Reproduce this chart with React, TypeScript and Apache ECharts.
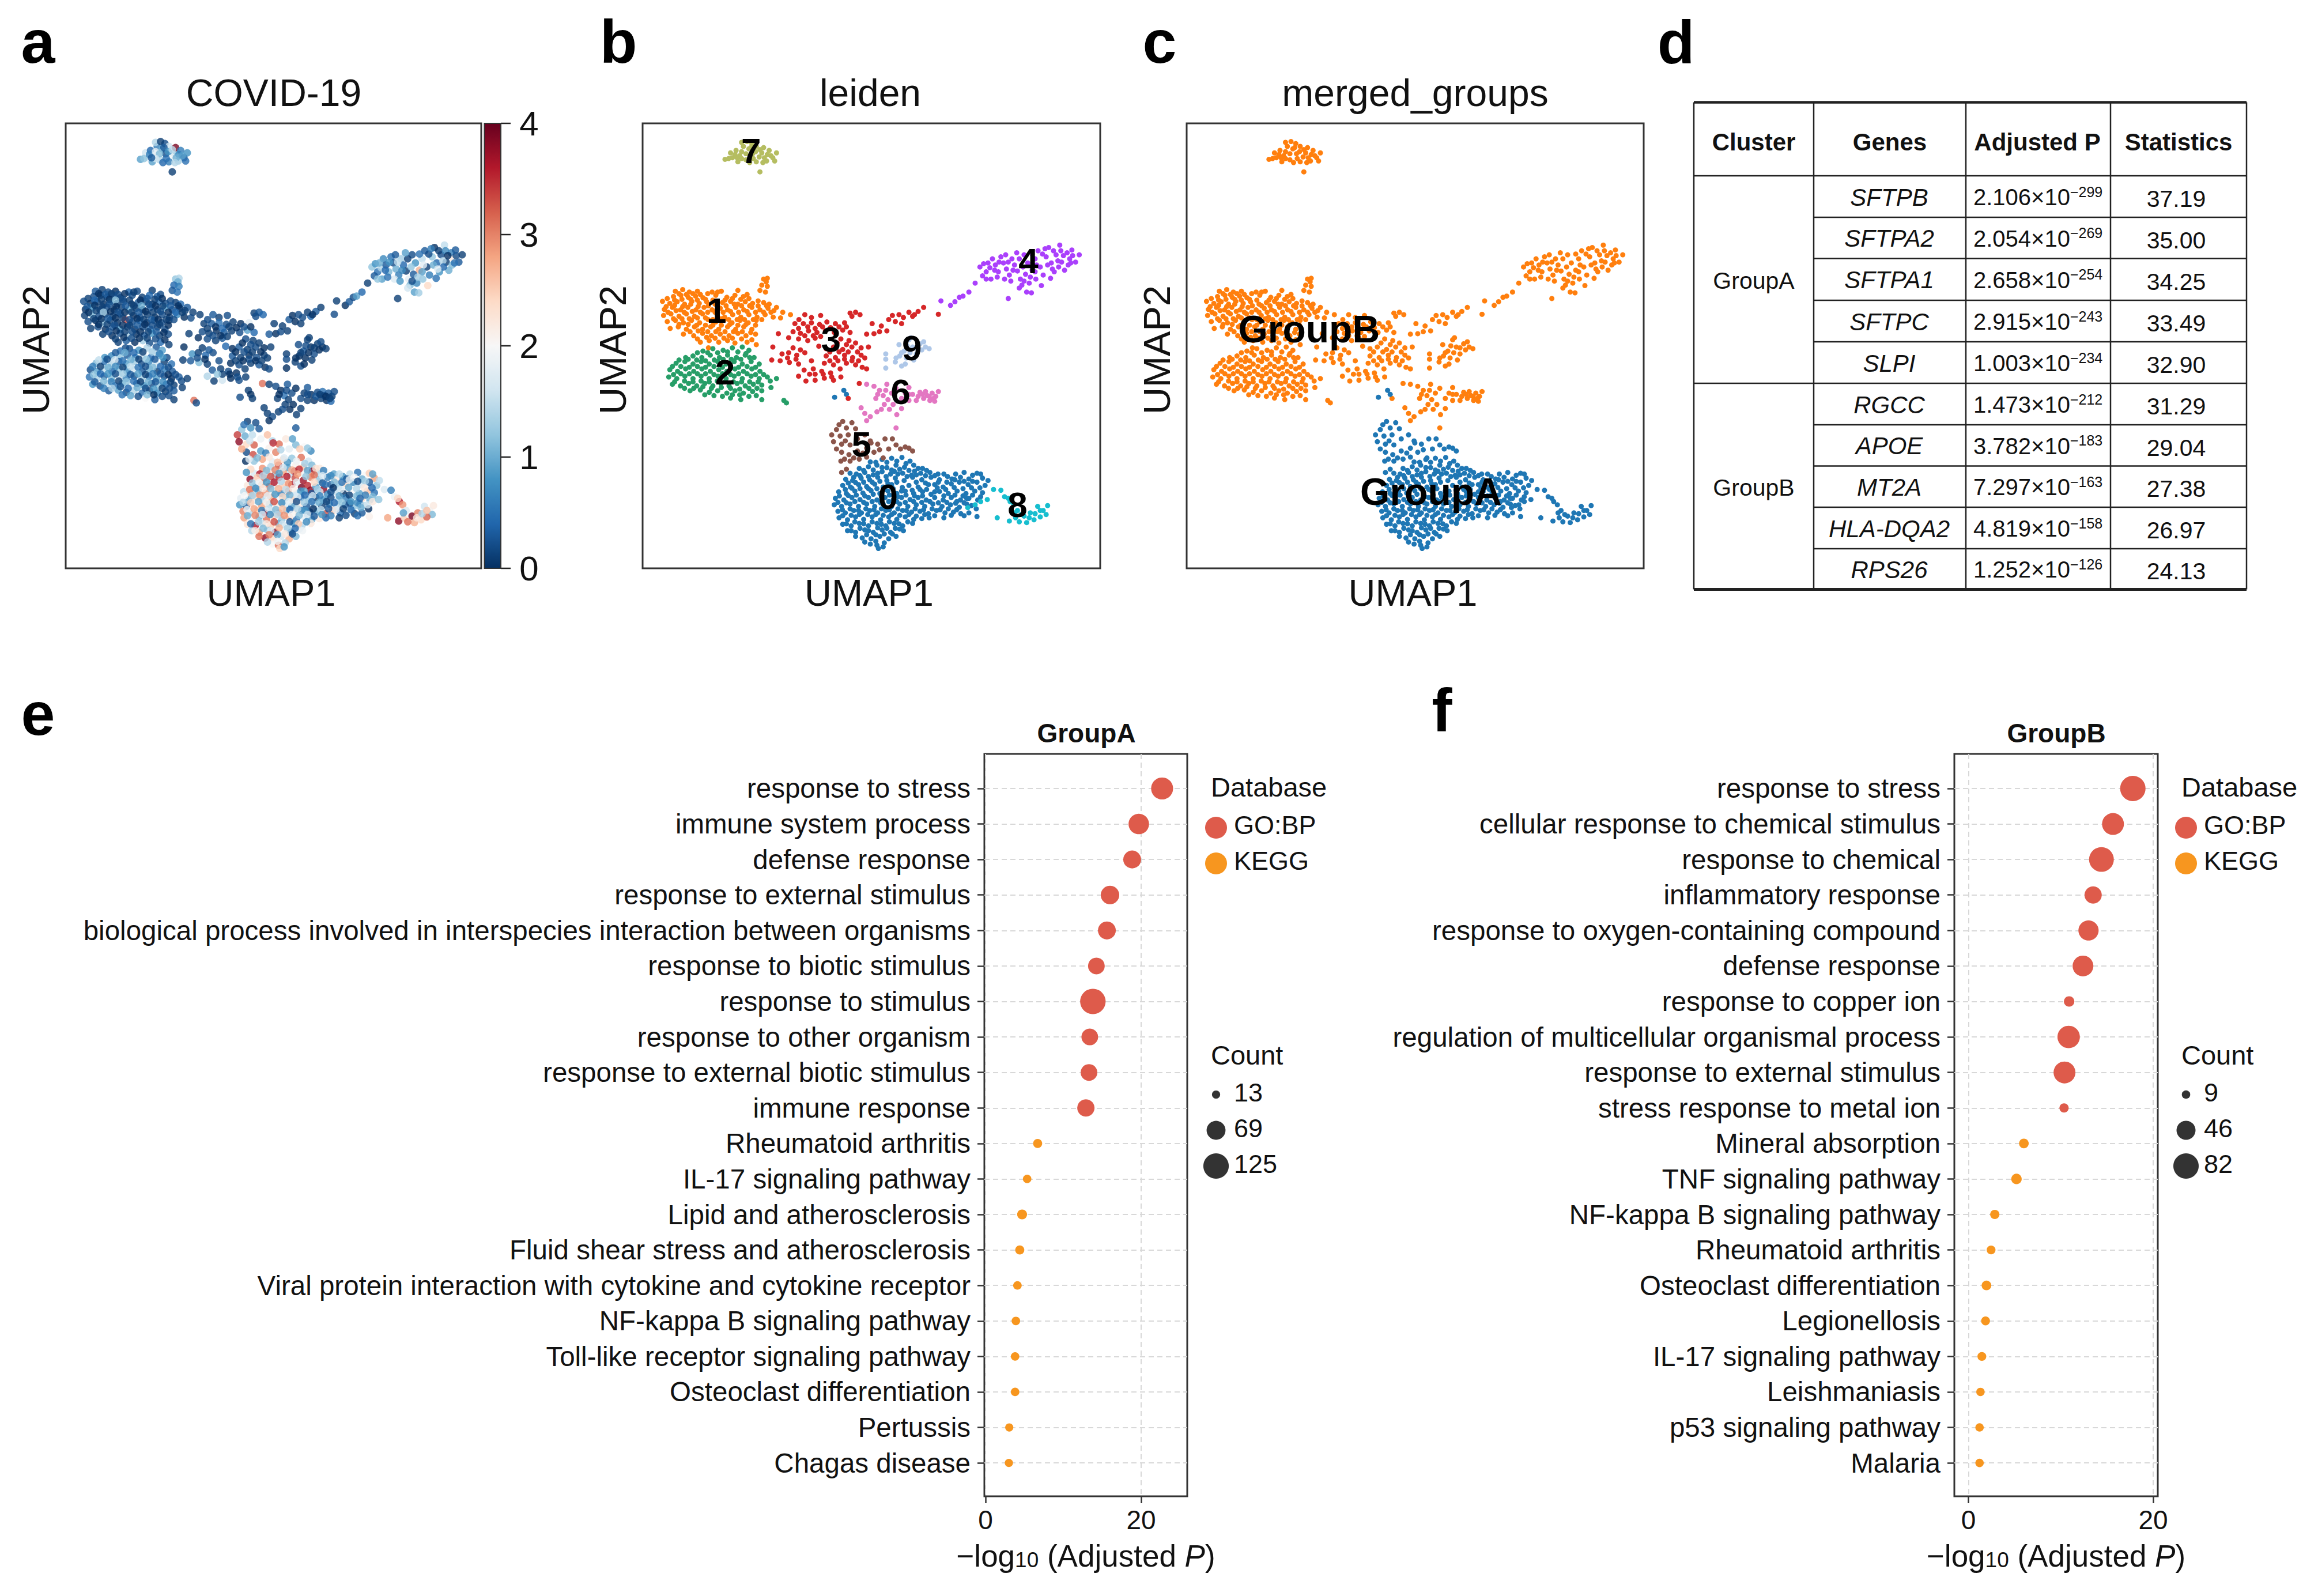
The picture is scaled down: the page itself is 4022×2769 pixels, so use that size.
import React, { useEffect, useRef } from "react";
import * as echarts from "echarts";

// UMAP embedding, as [umap1, umap2, covid19Score*10] triples per leiden cluster.
const cluster0 = [800,1142,18,832,1136,24,858,1133,12,886,1131,31,908,1140,16,770,1158,29,795,1154,14,818,1150,33,845,1156,9,870,1150,21,893,1155,26,918,1150,11,942,1158,22,745,1170,17,762,1172,36,785,1168,24,808,1174,12,832,1166,28,855,1172,15,865,1165,37,888,1170,19,920,1165,38,912,1175,25,937,1170,14,962,1168,20,984,1172,9,733,1185,38,752,1188,20,775,1182,31,798,1186,16,820,1180,35,845,1188,23,868,1182,33,892,1188,37,915,1180,30,940,1186,12,965,1180,6,988,1186,22,1010,1178,8,1032,1172,15,1055,1168,5,1078,1175,20,1105,1182,28,725,1200,22,746,1204,14,768,1198,27,790,1203,32,812,1197,18,835,1204,25,858,1198,36,887,1205,39,905,1200,35,914,1212,38,953,1210,38,930,1204,9,975,1198,3,998,1204,12,1020,1196,24,1042,1192,7,1066,1198,16,1090,1192,3,1112,1200,12,714,1216,15,735,1220,26,758,1214,11,780,1219,29,802,1213,21,826,1220,6,848,1214,30,872,1220,16,895,1214,10,918,1220,3,942,1216,18,965,1222,7,988,1215,15,1012,1220,0,1036,1214,20,1060,1220,9,1084,1214,26,1105,1218,5,705,1232,18,728,1236,9,750,1230,24,772,1235,14,795,1230,27,818,1236,19,840,1230,11,862,1236,25,885,1230,5,908,1235,12,930,1230,1,952,1236,8,975,1230,2,998,1236,13,1020,1230,6,1045,1236,18,1068,1232,24,1092,1236,10,702,1248,8,722,1252,3,745,1246,20,768,1252,28,790,1246,11,812,1252,22,835,1246,17,858,1252,9,880,1246,22,902,1252,3,925,1248,14,948,1252,1,970,1246,7,995,1252,14,1018,1248,3,1042,1254,12,1062,1246,6,712,1264,30,732,1268,14,755,1262,25,776,1268,37,798,1262,16,820,1268,30,842,1262,12,865,1268,22,888,1262,6,912,1266,2,935,1264,10,958,1270,33,980,1262,27,1003,1268,5,1026,1266,16,1046,1270,1,1090,1277,21,715,1280,28,738,1285,19,760,1278,10,782,1284,31,805,1278,24,828,1285,12,850,1278,27,872,1284,5,895,1278,18,918,1284,9,940,1282,22,960,1280,4,725,1296,23,748,1300,36,770,1294,15,795,1300,25,818,1294,10,842,1300,19,865,1294,8,888,1300,14,915,1294,22,738,1312,14,760,1316,28,785,1310,12,808,1316,39,832,1310,20,855,1316,7,880,1308,16,778,1330,38,760,1326,31,802,1332,24,826,1326,16,850,1332,27,870,1326,11,800,1345,20,818,1348,31,838,1342,14,822,1356,24,703,982,2,728,965,1,735,975,0,
815,1143,26,845,1143,8,872,1140,19,897,1146,13,782,1163,11,808,1162,30,832,1156,16,858,1162,27,880,1160,35,905,1163,9,930,1158,23,953,1163,6,755,1180,25,772,1176,14,795,1178,33,820,1170,9,843,1178,36,875,1172,28,900,1178,12,925,1174,31,950,1176,17,975,1176,7,1000,1172,15,1022,1184,3,1045,1180,20,1068,1184,10,1090,1170,25,740,1194,12,760,1193,19,782,1192,8,805,1192,36,826,1190,14,848,1196,29,872,1192,18,925,1192,24,950,1194,3,985,1192,11,1008,1192,5,1030,1186,18,1055,1190,2,1078,1190,13,732,1210,31,750,1207,7,772,1208,22,795,1208,11,818,1208,27,840,1210,15,862,1208,21,885,1214,8,935,1210,13,958,1198,5,982,1206,0,1005,1210,17,1028,1205,9,1052,1208,14,1075,1206,22,1098,1206,4,716,1226,20,740,1225,13,762,1224,29,785,1226,18,808,1222,8,830,1228,24,852,1224,10,875,1228,17,897,1224,4,920,1226,16,942,1226,6,975,1216,2,1000,1226,9,1030,1224,1,1052,1226,11,1078,1224,6,712,1242,14,735,1243,25,758,1240,9,782,1242,21,805,1240,33,828,1243,7,850,1240,18,872,1240,2,895,1242,13,918,1240,5,940,1242,10,962,1240,1,985,1243,4,1008,1242,12,1032,1244,2,1055,1243,7,724,1260,19,745,1258,28,768,1262,6,788,1258,16,810,1260,11,830,1258,26,852,1260,4,875,1258,14,898,1262,8,922,1258,0,945,1260,15,968,1258,3,990,1260,18,1012,1258,1,1035,1260,4,725,1275,10,748,1274,30,770,1272,17,793,1272,7,815,1272,14,835,1274,29,858,1272,20,880,1274,11,905,1272,16,925,1276,3,948,1272,8,975,1275,6,1000,1280,1,735,1295,5,758,1290,13,782,1295,22,805,1290,33,830,1296,16,852,1290,3,878,1295,25,902,1290,7,748,1312,21,772,1306,11,795,1312,17,820,1305,27,845,1306,13,868,1306,4,890,1312,19,790,1322,30,815,1322,9,838,1320,22,860,1320,2,785,1340,14,815,1338,19,835,1352,8,
1120,1188,15,1100,1172,9,1062,1232,4,1075,1250,15,1088,1258,0,1055,1275,5,1068,1268,3,1035,1240,8,1020,1274,2,1100,1228,11];
const cluster1 = [510,690,12,520,688,14,517,697,10,505,705,4,520,708,6,500,718,3,515,722,5,270,720,3,290,716,1,308,722,2,330,720,0,370,722,4,395,720,2,440,718,1,248,738,1,265,733,2,285,730,0,305,735,1,325,732,3,345,736,0,380,730,2,410,735,1,432,730,4,455,733,3,465,728,2,235,745,2,255,750,0,275,746,1,295,752,0,315,745,9,335,750,1,355,746,2,378,752,0,398,748,3,420,745,1,440,752,0,460,746,5,480,750,2,510,748,1,525,752,4,240,765,0,262,760,8,284,766,1,304,760,2,326,766,0,348,760,1,370,766,10,392,762,1,412,766,0,434,760,3,456,766,1,478,760,9,500,766,2,522,762,0,545,760,3,562,772,1,238,780,1,258,776,11,280,782,2,300,776,0,322,782,1,359,790,33,344,776,3,384,780,0,404,784,2,426,778,1,448,784,0,470,778,2,492,784,1,514,778,7,536,784,0,556,786,2,583,778,1,248,795,2,270,792,0,292,798,12,314,792,1,336,798,0,380,796,2,402,792,4,424,798,0,446,792,1,468,798,2,490,792,0,256,812,1,278,808,2,300,814,0,322,808,3,344,814,9,366,808,1,388,814,0,412,808,2,434,814,5,456,808,1,478,814,2,292,826,1,320,830,0,344,824,2,368,830,14,392,826,0,416,830,3,440,824,8,462,830,1,488,826,2,338,846,1,362,842,3,388,846,0,412,842,13,432,848,2,465,846,4,490,852,1,360,860,2,
280,726,0,300,728,3,318,726,1,338,728,2,358,726,0,385,722,1,268,742,4,288,740,1,312,740,0,330,742,12,352,740,2,372,742,1,405,742,0,425,738,3,448,740,1,470,738,0,495,744,2,245,758,3,268,755,0,290,758,1,312,752,2,332,758,0,360,756,3,385,756,1,408,756,10,430,752,2,450,756,0,472,756,1,495,756,3,518,756,0,538,768,1,250,772,0,272,768,1,294,772,13,316,770,0,338,772,2,358,772,0,378,772,1,400,772,3,420,770,0,442,772,1,465,770,2,488,772,0,510,772,4,530,772,1,265,788,1,288,788,0,308,788,3,330,786,0,352,786,1,372,790,2,395,788,0,415,790,1,438,790,3,458,790,0,482,790,1,505,790,2,280,802,0,305,802,1,328,804,2,352,804,0,372,804,1,395,804,3,418,802,0,440,804,2,462,802,1,488,804,0,310,820,2,332,818,0,358,820,1,380,820,2,405,820,0,428,820,1,452,820,3,475,822,0,330,838,1,355,834,0,378,836,2,402,836,0,425,836,1,450,838,2,478,840,0];
const cluster2 = [345,868,5,372,862,2,400,866,8,425,860,14,452,858,3,470,866,9,318,880,7,342,884,12,365,878,3,390,884,6,412,878,16,436,884,4,460,878,11,484,884,2,272,898,11,296,894,5,318,900,14,340,894,3,362,900,9,385,894,13,408,900,2,430,894,7,452,900,16,476,894,1,498,900,5,255,914,2,276,918,9,298,912,15,320,918,4,342,912,12,365,918,7,388,914,16,410,918,3,432,912,10,455,918,1,478,912,6,500,918,3,252,932,5,274,936,14,296,930,3,318,936,11,340,930,17,362,936,6,386,930,2,408,936,13,430,930,4,452,936,9,476,930,2,498,936,0,520,932,3,262,950,8,284,954,2,306,948,15,328,954,5,350,948,10,372,954,18,394,948,3,416,954,8,438,948,2,460,954,12,482,950,4,505,952,1,528,942,2,545,936,1,310,966,3,338,964,9,362,970,2,385,966,14,410,972,5,432,966,1,455,972,7,480,968,1,505,966,3,530,958,1,420,984,20,448,988,3,470,980,2,505,988,1,565,990,31,572,996,2,
358,872,10,385,872,4,412,870,1,440,870,13,462,874,6,330,872,3,298,884,8,280,890,15,305,888,2,328,890,16,352,892,5,376,890,10,400,888,1,422,888,12,448,888,3,472,884,8,262,906,6,285,906,1,308,908,10,330,906,7,352,908,1,375,906,15,398,908,5,420,906,2,442,908,11,465,906,4,488,908,2,265,926,12,285,924,4,308,924,8,330,924,2,352,924,13,375,926,3,398,924,9,420,926,1,442,924,6,465,924,3,488,926,0,510,926,2,268,944,3,295,942,11,318,944,6,340,942,1,362,944,12,384,942,5,405,944,1,428,944,10,450,944,3,472,944,7,495,944,1,295,960,6,320,960,14,345,956,2,368,960,4,395,958,10,420,960,2,445,962,8,470,960,1,492,960,2,350,976,5,375,978,9,398,980,2,425,976,11,445,976,0,490,978,2];
const cluster3 = [622,778,3,640,785,1,665,780,2,745,774,1,760,772,3,772,778,4,750,782,2,595,800,1,618,800,3,640,798,5,662,802,2,682,796,1,705,800,0,730,798,18,590,820,2,610,824,1,632,818,0,655,822,3,678,818,1,702,822,2,725,816,9,745,822,4,805,800,1,790,826,3,550,825,1,578,835,0,605,838,2,630,842,1,650,836,3,720,838,2,742,842,1,660,856,4,680,862,0,700,858,3,725,864,1,750,858,2,775,860,0,795,858,1,560,875,8,578,872,1,600,878,4,622,872,2,680,880,3,705,884,1,730,878,0,752,884,2,775,878,1,535,858,0,532,890,1,555,892,3,580,896,11,605,900,1,640,892,2,675,898,0,700,902,2,735,898,1,760,902,3,778,908,0,620,915,3,645,912,1,668,918,2,692,922,0,718,912,1,790,912,2,605,930,14,625,942,1,650,940,16,675,935,0,700,940,2,720,932,1,770,948,31,740,985,1,810,825,0,825,820,2,845,818,1,850,790,3,868,795,0,890,785,2,885,800,1,915,782,4,930,770,3,945,760,1,985,777,2,
606,790,2,630,808,0,650,812,4,670,808,1,692,810,0,715,808,2,735,808,0,605,812,1,622,830,2,645,830,0,665,832,1,710,848,0,735,852,2,760,848,1,690,870,0,715,870,2,740,870,1,765,870,0,785,885,1,575,885,2,598,888,0,590,860,1,610,865,3,730,888,2,750,892,0,768,892,1,690,892,1,712,892,0,650,925,1,672,925,0,695,932,2,635,925,12,830,806,1,860,780,0,878,778,2,905,772,1,920,778,0];
const cluster4 = [992,744,1,1018,755,0,1030,746,3,1042,735,2,1052,732,9,1068,722,4,1085,700,1,1098,660,12,1108,652,8,1115,672,5,1105,682,3,1125,662,14,1132,640,7,1140,655,3,1148,672,11,1128,690,9,1155,635,5,1162,650,2,1170,665,10,1178,680,6,1165,690,17,1185,640,13,1192,655,4,1200,670,1,1208,690,18,1212,705,11,1225,722,9,1238,724,13,1232,700,7,1205,712,16,1218,630,2,1228,650,8,1240,668,27,1248,640,15,1256,620,3,1262,660,1,1270,680,6,1278,635,12,1285,612,0,1292,650,4,1300,672,8,1305,630,2,1315,606,15,1320,648,1,1328,668,10,1335,625,6,1342,640,22,1350,632,2,1368,630,1,1358,648,3,1265,706,24,1290,688,5,1175,738,1,1250,690,12,
1120,650,10,1138,668,4,1150,648,8,1175,648,15,1168,630,3,1188,668,7,1205,640,1,1215,660,12,1222,678,3,1198,625,9,1240,628,5,1252,655,18,1268,628,2,1282,655,10,1275,615,6,1298,620,1,1310,645,14,1312,660,4,1318,620,7,1325,632,0,1338,655,11,1348,618,3,1345,650,5,1295,665,17,1248,672,9,1235,685,13,1218,695,2,1182,695,8,1145,685,5,1115,690,12];
const cluster5 = [725,1042,1,735,1058,8,708,1062,12,695,1075,34,718,1078,10,740,1075,15,760,1060,3,700,1092,38,722,1098,24,745,1100,32,765,1085,19,785,1075,26,800,1090,14,820,1098,31,840,1085,22,850,1110,18,870,1100,11,895,1105,20,915,1115,7,722,1118,2,742,1124,33,765,1115,9,790,1108,21,810,1118,30,835,1132,17,720,1140,0,745,1140,12,735,1160,24,722,1168,8,770,1135,28,802,1095,35,
715,1050,5,750,1045,2,732,1090,16,708,1110,28,755,1132,11,780,1120,6,825,1112,14,860,1085,9,882,1110,25,905,1108,12,730,1135,18,790,1130,22];
const cluster6 = [785,1022,1,790,950,1,810,955,2,825,965,0,845,950,3,815,985,1,835,978,5,858,972,2,838,1000,1,862,1000,0,885,985,2,885,1010,1,905,958,3,925,990,0,935,970,2,945,985,1,950,968,5,962,990,0,968,972,3,978,980,1,985,968,2,975,992,4,905,990,1,800,1030,2,818,1018,1,870,1058,3,790,1040,0,775,1008,1,830,1012,2,
820,975,0,848,988,1,870,960,0,842,965,2,895,972,1,915,975,0,930,980,3,955,978,2,942,975,1,960,980,0,972,985,1,852,1012,0,905,975,2,872,1025,1];
const cluster7 = [405,394,9,420,378,16,435,372,4,445,385,19,455,362,6,470,368,10,478,355,2,490,362,16,505,378,12,520,382,7,535,390,3,545,378,8,540,398,5,518,398,13,498,388,19,480,380,2,462,395,14,440,400,9,425,390,17,500,425,1,490,400,6,472,402,4,510,365,39,450,352,14,465,350,1,
415,392,12,432,382,6,450,375,18,462,380,11,475,365,3,488,375,8,500,370,15,512,390,10,525,372,6,530,385,9,508,402,14,482,392,5,450,392,16,438,390,3];
const cluster8 = [1065,1255,10,1085,1248,16,1100,1240,22,1118,1235,12,1135,1210,17,1155,1212,6,1145,1280,28,1165,1228,19,1180,1240,36,1190,1248,29,1178,1288,38,1195,1280,25,1210,1272,20,1218,1276,39,1225,1292,27,1235,1268,30,1245,1285,24,1255,1252,16,1270,1262,19,1278,1272,11,1262,1278,32,1282,1250,22,
1200,1262,17,1232,1280,22,1248,1270,14,1205,1290,31,1192,1268,9,1262,1262,26,1175,1232,24];
const cluster9 = [842,875,1,842,888,2,842,910,0,868,895,1,880,880,0,892,868,3,905,840,1,915,858,0,925,875,2,935,850,1,950,858,0,960,862,1,878,852,2,898,885,0,918,890,1,885,905,2,
870,885,0,885,872,1,900,855,2,908,872,0,925,860,1,940,865,0,910,835,1,895,900,0,945,845,2];
const leidenClusters = [cluster0, cluster1, cluster2, cluster3, cluster4, cluster5, cluster6, cluster7, cluster8, cluster9];
const leidenColors = ["#1f77b4", "#ff7f0e", "#279e68", "#d62728", "#aa40fc", "#8c564b", "#e377c2", "#b5bd61", "#17becf", "#aec7e8"];
const leidenCentroids: [string, number, number][] = [["0",848,1228],["1",382,768],["2",405,920],["3",693,838],["4",1230,645],["5",776,1098],["6",882,968],["7",476,372],["8",1200,1247],["9",913,860]];
const groupAClusters = [0, 5, 8];
const groupCentroids: [string, number, number][] = [["GroupB",514,814],["GroupA",846,1215]];
const rdBuR = ["#053061","#2166ac","#4393c3","#92c5de","#d1e5f0","#f7f7f7","#fddbc7","#f4a582","#d6604d","#b2182b","#67001f"];

const tableHeader = ["Cluster", "Genes", "Adjusted P", "Statistics"];
const tableGroups = ["GroupA", "GroupB"];
const tableGenes = ["SFTPB","SFTPA2","SFTPA1","SFTPC","SLPI","RGCC","APOE","MT2A","HLA-DQA2","RPS26"];
const tableMantissa = ["2.106","2.054","2.658","2.915","1.003","1.473","3.782","7.297","4.819","1.252"];
const tableExponent = ["299","269","254","243","234","212","183","163","158","126"];
const tableStats = ["37.19","35.00","34.25","33.49","32.90","31.29","29.04","27.38","26.97","24.13"];

const termsA = ["response to stress","immune system process","defense response","response to external stimulus","biological process involved in interspecies interaction between organisms","response to biotic stimulus","response to stimulus","response to other organism","response to external biotic stimulus","immune response","Rheumatoid arthritis","IL-17 signaling pathway","Lipid and atherosclerosis","Fluid shear stress and atherosclerosis","Viral protein interaction with cytokine and cytokine receptor","NF-kappa B signaling pathway","Toll-like receptor signaling pathway","Osteoclast differentiation","Pertussis","Chagas disease"];
const valuesA = [22.7,19.7,18.85,16.0,15.6,14.25,13.8,13.4,13.3,12.9,6.7,5.35,4.7,4.4,4.1,3.9,3.8,3.8,3.05,3.0];
const countsA = [93,81,62,66,62,54,125,54,54,58,16,14,19,16,14,14,14,14,13,13];
const termsB = ["response to stress","cellular response to chemical stimulus","response to chemical","inflammatory response","response to oxygen-containing compound","defense response","response to copper ion","regulation of multicellular organismal process","response to external stimulus","stress response to metal ion","Mineral absorption","TNF signaling pathway","NF-kappa B signaling pathway","Rheumatoid arthritis","Osteoclast differentiation","Legionellosis","IL-17 signaling pathway","Leishmaniasis","p53 signaling pathway","Malaria"];
const valuesB = [17.8,15.65,14.4,13.5,13.0,12.4,10.9,10.85,10.4,10.35,6.0,5.2,2.85,2.45,1.95,1.85,1.45,1.3,1.2,1.2];
const countsB = [82,61,78,38,52,55,14,64,61,11,12,14,11,10,12,10,10,9,9,9];
const databaseLabels = ["GO:BP", "KEGG"];
const databaseColors = ["#DE5B4B", "#F7961F"];
const countLegendA = [13, 69, 125];
const countLegendB = [9, 46, 82];
const colorbarTicks = [0, 1, 2, 3, 4];

const FONT = "'Liberation Sans', Arial, sans-serif";
const INK = "#111";
const triples = (flat: number[]) => {
  const out: number[][] = [];
  for (let i = 0; i + 2 < flat.length; i += 3) out.push([flat[i], flat[i + 1], flat[i + 2]]);
  return out;
};

function txt(text: string, x: number, y: number, size: number, o: any = {}) {
  return {
    type: "text", x, y, rotation: o.rotation || 0, silent: true, z: 50,
    style: {
      text, fill: o.fill || INK, fontFamily: FONT, fontSize: size, fontWeight: o.weight || "normal", fontStyle: o.style || "normal",
      align: o.align || "center", verticalAlign: "middle", textAlign: o.align || "center", textVerticalAlign: "middle", rich: o.rich,
    },
  };
}
function ln(x1: number, y1: number, x2: number, y2: number, w = 2.5) {
  return { type: "line", silent: true, z: 50, shape: { x1, y1, x2, y2 }, style: { stroke: "#222", lineWidth: w } };
}
function dot(cx: number, cy: number, d: number, fill: string) {
  return { type: "circle", silent: true, z: 50, shape: { cx, cy, r: d / 2 }, style: { fill } };
}

const UMAP_BOXES = [
  { left: 114, width: 721 },
  { left: 1115, width: 794 },
  { left: 2059, width: 793 },
];
const UMAP_TOP = 214;
const UMAP_H = 772;
const DOT_BOXES = [
  { left: 1708, width: 352, min: -0.15, max: 25.93, terms: termsA, values: valuesA, counts: countsA, k: 3.95 },
  { left: 3391, width: 353, min: -1.53, max: 20.5, terms: termsB, values: valuesB, counts: countsB, k: 4.86 },
];

function buildOption() {
  const grids: any[] = [];
  const xAxes: any[] = [];
  const yAxes: any[] = [];
  const series: any[] = [];
  const graphic: any[] = [];

  UMAP_BOXES.forEach((b, i) => {
    grids.push({ left: b.left, top: UMAP_TOP, width: b.width, height: UMAP_H, show: true, borderColor: "#333", borderWidth: 3, backgroundColor: "#fff" });
    xAxes.push({ gridIndex: i, type: "value", min: 181, max: 1425, show: false });
    yAxes.push({ gridIndex: i, type: "value", min: 305, max: 1405, inverse: true, show: false });
  });
  DOT_BOXES.forEach((b, j) => {
    const gi = j + 3;
    grids.push({ left: b.left, top: 1308, width: b.width, height: 1288, show: true, borderColor: "#333", borderWidth: 3 });
    const dash = { show: true, lineStyle: { color: "#d8d8d8", type: [9, 6], width: 2 } };
    xAxes.push({
      gridIndex: gi, type: "value", min: b.min, max: b.max, axisLine: { show: false, onZero: false },
      axisTick: { show: true, length: 12, lineStyle: { color: "#333", width: 2.5 }, customValues: [0, 20] },
      axisLabel: { show: true, customValues: [0, 20], margin: 18, fontFamily: FONT, fontSize: 46, color: INK },
      splitLine: dash,
      name: "{a|−log}{s|10}{a| (Adjusted }{i|P}{a|)}", nameLocation: "middle", nameGap: 77,
      nameTextStyle: { rich: {
        a: { fontFamily: FONT, fontSize: 53, color: INK },
        s: { fontFamily: FONT, fontSize: 37, color: INK, padding: [14, 0, 0, 0] },
        i: { fontFamily: FONT, fontSize: 53, fontStyle: "italic", color: INK },
      } },
    });
    yAxes.push({
      gridIndex: gi, type: "value", inverse: true, min: -0.974, max: 19.94, axisLine: { show: false, onZero: false },
      axisTick: { show: true, length: 12, lineStyle: { color: "#333", width: 2.5 }, customValues: b.terms.map((_, k) => k) },
      axisLabel: { show: true, customValues: b.terms.map((_, k) => k), margin: 24, fontFamily: FONT, fontSize: 47.5, color: INK, formatter: (v: number) => b.terms[Math.round(v)] },
      splitLine: dash,
    });
    series.push({
      type: "scatter", xAxisIndex: gi, yAxisIndex: gi, z: 5,
      data: b.values.map((v, k) => ({
        value: [v, k, b.counts[k]],
        symbolSize: b.k * Math.sqrt(b.counts[k]),
        itemStyle: { color: k < 10 ? databaseColors[0] : databaseColors[1], opacity: 1 },
      })),
    });
    graphic.push(txt(j === 0 ? "GroupA" : "GroupB", j === 0 ? 1885 : 3568, 1272, 46, { weight: "bold" }));
  });

  // panel a: scores through the colour map
  series.push({
    type: "scatter", xAxisIndex: 0, yAxisIndex: 0, symbolSize: 13, z: 5,
    data: leidenClusters.flatMap((c) => triples(c)),
  });
  const noBorder = { textBorderWidth: 0, textBorderColor: "transparent", opacity: 1 };
  // panel b: one series per leiden cluster
  leidenClusters.forEach((c, i) => {
    series.push({
      type: "scatter", xAxisIndex: 1, yAxisIndex: 1, symbolSize: 9, z: 5,
      itemStyle: { color: leidenColors[i], opacity: 1 },
      data: triples(c).map((p) => [p[0], p[1]]),
    });
  });
  series.push({
    type: "scatter", xAxisIndex: 1, yAxisIndex: 1, symbolSize: 1, z: 40,
    itemStyle: { color: "transparent" },
    label: { show: true, position: "inside", formatter: "{b}", fontFamily: FONT, fontSize: 62, fontWeight: "bold", color: "#000", ...noBorder },
    data: leidenCentroids.map(([name, x, y]) => ({ name, value: [x, y] })),
  });
  // panel c: clusters merged into the two groups
  series.push({
    type: "scatter", xAxisIndex: 2, yAxisIndex: 2, symbolSize: 9, z: 5,
    itemStyle: { color: leidenColors[1], opacity: 1 },
    data: leidenClusters.filter((_, i) => !groupAClusters.includes(i)).flatMap((c) => triples(c).map((p) => [p[0], p[1]])),
  });
  series.push({
    type: "scatter", xAxisIndex: 2, yAxisIndex: 2, symbolSize: 9, z: 6,
    itemStyle: { color: leidenColors[0], opacity: 1 },
    data: groupAClusters.flatMap((i) => triples(leidenClusters[i]).map((p) => [p[0], p[1]])),
  });
  series.push({
    type: "scatter", xAxisIndex: 2, yAxisIndex: 2, symbolSize: 1, z: 40,
    itemStyle: { color: "transparent" },
    label: { show: true, position: "inside", formatter: "{b}", fontFamily: FONT, fontSize: 66, fontWeight: "bold", color: "#000", ...noBorder },
    data: groupCentroids.map(([name, x, y]) => ({ name, value: [x, y] })),
  });

  // panel letters
  ([["a",66,72],["b",1073,72],["c",2012,72],["d",2908,73],["e",66,1238],["f",2502,1232]] as [string, number, number][]).forEach(([t, x, y]) =>
    graphic.push(txt(t, x, y, 106, { weight: "bold", fill: "#000" })));
  // UMAP titles and axis names
  const titles = ["COVID-19", "leiden", "merged_groups"];
  UMAP_BOXES.forEach((b, i) => {
    const cx = b.left + b.width / 2;
    graphic.push(txt(titles[i], i === 0 ? 475 : cx + (i === 1 ? -2 : 0), 161, 66));
    graphic.push(txt("UMAP1", cx - 4, 1028, 65));
    graphic.push(txt("UMAP2", b.left - 52, 607, 65, { rotation: Math.PI / 2 }));
  });
  // colour bar ticks
  colorbarTicks.forEach((t) => {
    const y = UMAP_TOP + UMAP_H * (1 - t / 4);
    graphic.push(ln(869, y, 886, y));
    graphic.push(txt(String(t), 918, y, 60));
  });
  graphic.push({ type: "rect", silent: true, z: 50, shape: { x: 840.5, y: UMAP_TOP, width: 28.5, height: UMAP_H }, style: { fill: "none", stroke: "#333", lineWidth: 2 } });

  // gene table
  const cols = [2939, 3147, 3411, 3662, 3898];
  const rows = [305, 377, 448.5, 521, 593, 665, 737, 808.5, 880, 952, 1022.5];
  graphic.push(ln(cols[0], 177.5, cols[4], 177.5, 4.5));
  graphic.push(ln(cols[0], 1022.5, cols[4], 1022.5, 5));
  rows.slice(0, -1).forEach((y, i) => graphic.push(ln(i === 0 || i === 5 ? cols[0] : cols[1], y, cols[4], y)));
  cols.forEach((x) => graphic.push(ln(x, 177.5, x, 1022.5)));
  [3043, 3279, 3535, 3780].forEach((x, i) => graphic.push(txt(tableHeader[i], x, 246, 42, { weight: "bold" })));
  graphic.push(txt(tableGroups[0], 3043, 487, 41));
  graphic.push(txt(tableGroups[1], 3043, 846, 41));
  tableGenes.forEach((g, i) => {
    const y = (rows[i] + rows[i + 1]) / 2 + 1;
    graphic.push(txt(g, 3278, y, 42, { style: "italic" }));
    graphic.push(txt(tableStats[i], 3776, y + 3, 41));
    graphic.push(txt(`{m|${tableMantissa[i]}×10}{e|−${tableExponent[i]}}`, 3424, y, 40, {
      align: "left",
      rich: {
        m: { fontFamily: FONT, fontSize: 40, color: INK, lineHeight: 44 },
        e: { fontFamily: FONT, fontSize: 25, color: INK, verticalAlign: "top", lineHeight: 28 },
      },
    }));
  });

  // dot plot legends
  ([{ tx: 2101, cx: 2110, lx: 2141, items: countLegendA, k: DOT_BOXES[0].k }, { tx: 3785, cx: 3793, lx: 3824, items: countLegendB, k: DOT_BOXES[1].k }]).forEach((l) => {
    graphic.push(txt("Database", l.tx, 1365, 47, { align: "left" }));
    databaseLabels.forEach((d, i) => {
      graphic.push(dot(l.cx, 1436 + i * 62, 38, databaseColors[i]));
      graphic.push(txt(d, l.lx, 1431 + i * 62, 45, { align: "left" }));
    });
    graphic.push(txt("Count", l.tx, 1830, 47, { align: "left" }));
    l.items.forEach((c, i) => {
      graphic.push(dot(l.cx, 1899 + i * 62, l.k * Math.sqrt(c), "#333"));
      graphic.push(txt(String(c), l.lx, 1895 + i * 62, 45, { align: "left" }));
    });
  });

  return {
    animation: false,
    backgroundColor: "#fff",
    textStyle: { fontFamily: FONT },
    grid: grids,
    xAxis: xAxes,
    yAxis: yAxes,
    series,
    graphic: { elements: graphic },
    visualMap: {
      type: "continuous", seriesIndex: 2, dimension: 2, min: 0, max: 40, show: true, calculable: false, realtime: false, silent: true,
      left: 840.5, top: UMAP_TOP, itemWidth: 28.5, itemHeight: UMAP_H, padding: 0, text: ["", ""], showLabel: false, hoverLink: false,
      inRange: { color: rdBuR }, formatter: () => "", textStyle: { fontSize: 1, color: "transparent" },
    },
  };
}

export default function App() {
  const ref = useRef<HTMLDivElement>(null);
  useEffect(() => {
    const chart = echarts.init(ref.current!, undefined, { renderer: "svg" });
    chart.setOption(buildOption() as any);
    return () => chart.dispose();
  }, []);
  return <div ref={ref} style={{ position: "fixed", left: 0, top: 0, width: 4022, height: 2769 }} />;
}
